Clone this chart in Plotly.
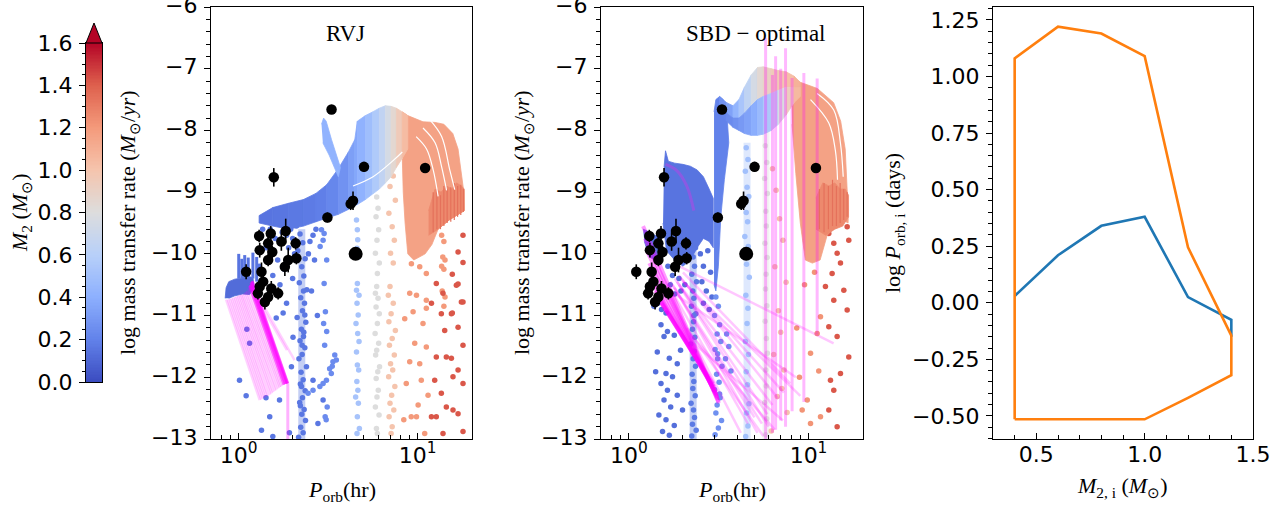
import math
import numpy as np
import plotly.graph_objects as go
from plotly.colors import sample_colorscale

W, H = 1286, 505

# ---------------- colour map (matplotlib coolwarm) ----------------
COOLWARM = [[0.0, 'rgb(59,76,192)'], [0.125, 'rgb(98,130,234)'], [0.25, 'rgb(141,176,254)'],
            [0.375, 'rgb(184,208,249)'], [0.5, 'rgb(221,221,221)'], [0.625, 'rgb(245,196,173)'],
            [0.75, 'rgb(244,154,123)'], [0.875, 'rgb(222,96,77)'], [1.0, 'rgb(180,4,38)']]
CMIN, CMAX = 0.0, 1.6
CBAR_TICKS = [0.0, 0.2, 0.4, 0.6, 0.8, 1.0, 1.2, 1.4, 1.6]

# ---------------- observed systems (both panels) ----------------
OBS_P = [3.30, 1.57, 5.01, 11.0, 3.13, 4.35, 4.22, 1.10, 1.30, 1.51, 1.83, 1.73, 1.46, 1.31,
         2.08, 1.54, 1.89, 2.10, 1.81, 1.46, 1.34, 1.37, 1.31, 1.52, 1.66, 1.46, 1.40, 1.28]
OBS_L = [-7.66, -8.76, -8.59, -8.61, -9.41, -9.14, -9.19, -10.29, -9.71, -9.67, -9.63, -9.80,
         -9.83, -9.94, -9.83, -9.97, -10.10, -10.07, -10.21, -10.10, -10.29, -10.45, -10.53,
         -10.56, -10.64, -10.70, -10.78, -10.64]
OBS_ERR = [0.0, 0.15, 0.08, 0.08, 0.08, 0.15, 0.10, 0.12, 0.10, 0.12, 0.20, 0.15, 0.10, 0.12,
           0.10, 0.10, 0.20, 0.10, 0.15, 0.10, 0.15, 0.10, 0.10, 0.12, 0.10, 0.10, 0.12, 0.10]
BIG_P = [4.5]
BIG_L = [-10.0]

# ---------------- RVJ panel ----------------
RVJ_BLOB_P = [0.84, 0.85, 0.88, 0.95, 1.05, 1.12, 1.20, 1.22, 1.15, 1.05, 0.95, 0.88]
RVJ_BLOB_L = [-10.72, -10.55, -10.45, -10.41, -10.39, -10.37, -10.38, -10.55, -10.66, -10.65, -10.68, -10.72]
RVJ_BLOB_M = 0.12
RVJ_STRIPE_P = [1.0, 1.04, 1.08, 1.13, 1.2, 1.26]
RVJ_STRIPE_TOP = [-10.0, -10.08, -10.02, -10.06, -9.98, -10.05]
RVJ_STRIPE_BOT = [-10.4, -10.4, -10.4, -10.4, -10.4, -10.45]
RVJ_COL_P = [2.25]
RVJ_COL_TOP = [-9.6]
RVJ_COL_BOT = [-13.0]
RVJ_COL_M = 0.16

RVJ_BAND_P = [1.30, 1.55, 1.9, 2.3, 2.7, 3.1, 3.6, 4.1, 4.45, 4.6, 5.1, 5.6, 6.1, 6.6, 7.1, 7.6, 8.2, 8.8]
RVJ_BAND_UP = [-9.38, -9.25, -9.18, -9.12, -9.02, -8.88, -8.62, -8.35, -8.15, -7.85, -7.76, -7.70,
               -7.64, -7.60, -7.61, -7.64, -7.70, -7.76]
RVJ_BAND_LO = [-9.50, -9.55, -9.60, -9.55, -9.48, -9.42, -9.36, -9.28, -9.22, -9.20, -9.12, -9.03,
               -8.95, -8.85, -8.75, -8.60, -8.45, -8.30]
RVJ_BAND_M = [0.15, 0.15, 0.16, 0.17, 0.18, 0.20, 0.24, 0.30, 0.35, 0.38, 0.45, 0.52, 0.60, 0.70,
              0.80, 0.90, 1.00, 1.08]
RVJ_FINGER_P = [2.90, 2.98, 3.08, 3.30, 3.70, 3.60, 3.20, 2.95]
RVJ_FINGER_L = [-7.90, -7.80, -7.85, -8.15, -8.60, -8.75, -8.40, -8.20]
RVJ_FINGER_M = 0.42
RVJ_ORANGE_P = [8.2, 8.8, 10.7, 12.5, 14.0, 15.7, 16.8, 17.6, 18.1, 18.2, 17.0, 15.0, 13.0, 12.0,
                11.0, 9.5, 8.8, 8.5, 8.3, 8.2]
RVJ_ORANGE_L = [-7.70, -7.76, -7.86, -7.87, -7.90, -8.05, -8.30, -8.70, -9.0, -9.3, -9.35, -9.45,
                -9.6, -9.85, -10.0, -10.1, -10.0, -9.5, -9.0, -8.45]
RVJ_ORANGE_M = 1.16
RVJ_RED_P = [11.5, 12.5, 13.5, 14.5, 15.5, 16.5, 17.5, 18.2, 18.2, 17.0, 15.0, 13.0, 11.5]
RVJ_RED_L = [-9.30, -8.95, -9.00, -8.90, -8.95, -8.85, -8.90, -8.95, -9.30, -9.35, -9.45, -9.60, -9.70]
RVJ_RED_M = 1.26
RVJ_STRIA_P = [12.2, 12.8, 13.4, 14.0, 14.6, 15.3, 16.0, 16.7, 17.4, 18.0]
RVJ_STRIA_TOP = [-9.0, -8.95, -9.05, -8.9, -8.95, -8.92, -8.85, -8.9, -8.88, -8.95]
RVJ_STRIA_BOT = [-9.65, -9.6, -9.6, -9.55, -9.5, -9.48, -9.45, -9.4, -9.37, -9.32]
RVJ_GAPS = [([11.7, 13.6, 15.1, 16.1], [-7.83, -8.10, -8.64, -8.96]),
            ([10.7, 12.5, 13.6, 14.5], [-7.96, -8.20, -8.59, -8.97]),
            ([9.8, 11.2, 12.2, 13.0], [-8.10, -8.30, -8.64, -9.07]),
            ([4.35, 5.63, 7.28, 8.2], [-8.90, -8.75, -8.49, -8.35])]

RVJ_DOT_BLUE_P = [2.2, 2.28, 2.14, 2.35, 2.25, 2.31, 2.18, 2.4, 2.22, 2.33, 2.27, 2.12, 2.37, 2.24,
                  2.3, 2.2, 2.34, 2.26, 2.17, 2.39, 2.23, 2.29, 2.21, 2.35, 2.27, 2.19, 2.32, 2.25,
                  2.36, 2.22, 2.29, 2.16, 2.31, 2.24, 2.3, 2.26, 2.21, 2.34,
                  1.01, 1.10, 1.62, 1.77, 1.34, 1.49, 1.55, 1.42, 1.69, 2.01, 1.97, 2.6, 2.77, 2.96,
                  1.11, 1.15, 1.75, 1.85, 1.95, 2.0, 1.9, 2.05, 1.6, 1.5, 1.45, 1.65, 2.1, 1.8, 1.55,
                  2.0, 1.7, 2.6, 2.5, 2.7, 2.45, 2.65, 1.85, 2.55, 2.75, 1.92, 1.36, 1.42, 1.3]
RVJ_DOT_BLUE_L = [-9.68, -9.82, -9.95, -10.08, -10.21, -10.36, -10.47, -10.58, -10.71, -10.8, -10.92,
                  -11.03, -11.11, -11.22, -11.34, -11.41, -11.52, -11.63, -11.7, -11.83, -11.92,
                  -12.04, -12.11, -12.22, -12.33, -12.41, -12.52, -12.6, -12.7, -12.81, -12.9,
                  -12.97, -11.27, -12.15, -10.6, -11.48, -12.46, -10.99,
                  -12.05, -12.3, -11.04, -10.96, -12.86, -12.64, -12.96, -12.33, -12.37, -11.35,
                  -11.83, -12.05, -12.75, -12.37, -11.22, -11.45, -9.65, -9.7, -9.6, -9.75, -9.9,
                  -10.0, -9.75, -9.6, -9.8, -10.1, -9.55, -10.25, -10.35, -10.4, -10.5, -9.7, -9.8,
                  -9.6, -10.0, -10.1, -10.8, -10.6, -11.0, -12.9, -9.6, -9.9, -10.2]
RVJ_DOT_BLUE_M = 0.16
RVJ_DOT_MID_P = [3.44, 3.36, 3.22, 3.29, 3.09, 2.84, 2.6, 2.44, 3.51, 3.33, 2.96, 3.0, 3.05, 2.98,
                 3.1, 3.02, 3.12, 3.04, 3.08, 2.9, 2.96, 3.1, 2.85, 3.0]
RVJ_DOT_MID_L = [-11.64, -11.75, -11.86, -11.94, -12.05, -12.15, -12.21, -12.26, -11.72, -11.82,
                 -12.1, -10.48, -10.94, -11.13, -11.26, -11.48, -12.48, -12.64, -12.69, -9.61,
                 -9.78, -10.1, -9.88, -9.67]
RVJ_DOT_MID_M = 0.24
RVJ_DOT_LB_P = [4.6, 4.55, 4.7, 4.58, 4.65, 4.52, 4.62, 4.7, 4.55, 4.6, 4.68, 4.57, 4.63, 4.5,
                4.66, 4.6, 4.72, 4.58, 4.55, 4.6, 4.62, 4.58, 4.65]
RVJ_DOT_LB_L = [-10.48, -10.59, -10.67, -10.8, -10.99, -11.13, -11.29, -11.42, -11.59, -11.8,
                -11.88, -12.07, -12.21, -12.32, -12.42, -12.64, -12.83, -12.91, -9.45, -9.61,
                -9.77, -9.91, -10.05]
RVJ_DOT_LB_M = 0.52
RVJ_DOT_GR_P = [5.9, 5.8, 6.0, 5.85, 6.1, 5.95, 5.78, 6.05, 5.9, 5.82, 6.12, 5.98, 5.86, 6.02,
                5.92, 5.8, 6.08, 5.88, 5.95, 5.9, 6.0, 5.85, 6.05, 5.92, 5.8, 6.1, 5.95]
RVJ_DOT_GR_L = [-10.53, -10.64, -10.72, -10.86, -10.97, -11.13, -11.29, -11.45, -11.56, -11.64,
                -11.83, -11.91, -12.02, -12.21, -12.32, -12.48, -12.61, -12.83, -12.91, -9.08,
                -9.26, -9.4, -9.61, -9.78, -9.99, -10.15, -10.32]
RVJ_DOT_GR_M = 0.8
RVJ_DOT_LO_P = [7.0, 6.85, 7.3, 7.1, 6.9, 7.5, 7.2, 6.95, 7.4, 7.05, 7.25, 6.88, 7.45, 7.15, 7.0,
                7.35, 6.92, 7.2, 7.1, 7.3, 7.0, 7.5, 6.9, 7.2, 7.4, 7.05, 7.3]
RVJ_DOT_LO_L = [-10.53, -10.67, -10.8, -10.97, -11.1, -11.24, -11.37, -11.48, -11.64, -11.78,
                -11.88, -11.99, -12.15, -12.29, -12.42, -12.53, -12.64, -12.8, -12.91, -8.74,
                -8.91, -9.13, -9.34, -9.56, -9.78, -9.99, -10.15]
RVJ_DOT_LO_M = 1.0
RVJ_DOT_OR_P = [8.46, 9.02, 9.42, 9.62, 9.84, 10.05, 10.7, 11.17, 9.84, 10.47, 11.17, 11.42, 9.02,
                8.63, 9.2, 10.94, 8.36, 11.17, 10.26, 9.22, 10.26, 11.17, 13.6, 14.0, 13.8, 14.2,
                13.6, 14.0, 13.7, 14.2, 14.0]
RVJ_DOT_OR_L = [-11.05, -10.64, -10.94, -11.45, -10.67, -12.45, -11.13, -10.88, -12.64, -12.05,
                -11.51, -12.29, -11.75, -12.1, -12.64, -12.91, -12.69, -10.75, -11.78, -10.16,
                -10.21, -10.32, -9.7, -9.8, -10.05, -10.1, -10.2, -10.25, -10.6, -10.7, -10.85]
RVJ_DOT_OR_M = 1.2
RVJ_DOT_RD_P = [11.93, 12.7, 13.55, 13.84, 14.15, 15.42, 16.44, 17.53, 17.9, 12.7, 14.45, 15.74,
                16.8, 17.9, 12.44, 13.55, 14.45, 12.7, 13.84, 15.74, 16.8, 17.9, 11.93, 15.42,
                17.9, 16.8, 17.9, 15.6, 16.8, 17.9, 15.6, 16.8]
RVJ_DOT_RD_L = [-10.8, -10.48, -10.97, -10.64, -11.24, -10.97, -10.51, -10.78, -11.48, -11.67,
                -11.67, -11.99, -11.88, -12.1, -12.05, -12.26, -12.48, -12.64, -12.91, -12.53,
                -12.59, -12.88, -12.64, -11.69, -9.7, -9.97, -10.14, -10.33, -10.49, -10.78,
                -10.96, -11.19]
RVJ_DOT_RD_M = 1.42

RVJ_PINK_P0 = [0.85, 0.87, 0.89, 0.91, 0.93, 0.95, 0.97, 0.99, 1.01, 1.03, 1.05, 1.07, 1.09, 1.11,
               1.13, 1.15, 1.16, 1.17, 1.18, 1.19, 1.19, 1.17]
RVJ_PINK_L0 = [-10.74, -10.74, -10.73, -10.72, -10.71, -10.70, -10.69, -10.68, -10.67, -10.66,
               -10.66, -10.64, -10.62, -10.60, -10.56, -10.52, -10.50, -10.47, -10.45, -10.44,
               -10.52, -10.55]
RVJ_PINK_P1 = [1.31, 1.34, 1.37, 1.40, 1.43, 1.46, 1.50, 1.53, 1.56, 1.60, 1.63, 1.67, 1.70, 1.73,
               1.76, 1.79, 1.82, 1.85, 1.87, 1.88, 2.05, 1.86]
RVJ_PINK_L1 = [-12.37, -12.36, -12.34, -12.33, -12.31, -12.30, -12.28, -12.26, -12.24, -12.22,
               -12.20, -12.18, -12.16, -12.15, -12.13, -12.12, -12.11, -12.10, -12.10, -12.10,
               -11.72, -11.56]
RVJ_EDGE_P0 = [1.15, 1.16, 1.17, 1.18, 1.19]
RVJ_EDGE_L0 = [-10.52, -10.50, -10.47, -10.45, -10.44]
RVJ_EDGE_P1 = [1.79, 1.82, 1.85, 1.87, 1.88]
RVJ_EDGE_L1 = [-12.12, -12.11, -12.10, -12.10, -12.10]
RVJ_VPINK_P = [1.88]
RVJ_VPINK_TOP = [-12.1]
RVJ_VPINK_BOT = [-13.0]

# ---------------- SBD-optimal panel ----------------
SBD_BLOB_P = [1.2, 1.25, 1.35, 1.45, 1.52, 1.5, 1.4, 1.3, 1.22]
SBD_BLOB_L = [-9.6, -9.62, -9.68, -9.72, -9.8, -10.0, -10.1, -10.05, -9.8]
SBD_BLOB_M = 0.14
SBD_R2_P = [1.57, 1.6, 1.66, 1.8, 2.0, 2.2, 2.4, 2.6, 2.8, 2.95, 2.95, 2.8, 2.6, 2.4, 2.2, 2.0, 1.8, 1.62, 1.55]
SBD_R2_L = [-8.6, -8.33, -8.5, -8.53, -8.55, -8.58, -8.64, -8.75, -8.95, -9.1, -9.9, -9.8, -9.75,
            -9.9, -10.1, -10.2, -10.1, -9.95, -9.5]
SBD_R2_M = 0.15
SBD_R3_P = [2.98, 3.05, 3.2, 3.35, 3.5, 3.6, 3.4, 3.25, 3.15, 3.05, 2.98]
SBD_R3_L = [-7.7, -7.5, -7.45, -7.5, -7.65, -8.2, -8.8, -9.4, -10.2, -10.6, -10.5]
SBD_R3_M = 0.2
SBD_BAND_P = [3.2, 3.5, 3.8, 4.1, 4.4, 4.8, 5.2, 5.6, 6.2, 6.8, 7.5, 8.3, 9.0]
SBD_BAND_UP = [-7.45, -7.55, -7.60, -7.50, -7.30, -7.10, -6.98, -6.97, -7.00, -7.03, -7.05, -7.12, -7.22]
SBD_BAND_MID = [-7.60, -7.72, -7.80, -7.80, -7.72, -7.60, -7.50, -7.45, -7.40, -7.35, -7.30, -7.30, -7.30]
SBD_BAND_LO = [-7.70, -7.85, -7.95, -8.00, -8.05, -8.08, -8.08, -8.06, -8.00, -7.90, -7.75, -7.55, -7.45]
SBD_BAND_M_UP = [0.25, 0.30, 0.38, 0.48, 0.58, 0.70, 0.80, 0.88, 0.93, 0.97, 1.00, 1.05, 1.12]
SBD_BAND_M_LO = [0.20, 0.22, 0.25, 0.28, 0.32, 0.36, 0.42, 0.50, 0.60, 0.72, 0.85, 1.00, 1.10]
SBD_ORANGE_P = [8.0, 9.0, 11.2, 13.8, 15.1, 16.0, 16.4, 16.7, 16.6, 15.5, 14.0, 12.7, 11.6, 10.5,
                9.6, 9.0, 8.5, 8.1]
SBD_ORANGE_L = [-7.15, -7.22, -7.32, -7.55, -7.85, -8.3, -8.95, -9.3, -9.5, -9.45, -9.55, -9.7,
                -10.1, -10.15, -10.1, -9.5, -8.7, -7.9]
SBD_ORANGE_M = 1.16
SBD_RED_P = [11.0, 12.0, 13.0, 14.0, 15.0, 16.0, 16.7, 16.7, 15.5, 14.0, 12.5, 11.0]
SBD_RED_L = [-9.1, -8.85, -8.9, -8.85, -8.95, -8.95, -9.05, -9.4, -9.55, -9.6, -9.7, -9.6]
SBD_RED_M = 1.26
SBD_STRIA_P = [11.5, 12.2, 12.9, 13.6, 14.3, 15.0, 15.7, 16.4]
SBD_STRIA_TOP = [-8.95, -8.85, -8.9, -8.8, -8.9, -8.85, -8.95, -9.0]
SBD_STRIA_BOT = [-9.6, -9.65, -9.6, -9.55, -9.55, -9.5, -9.45, -9.4]
SBD_GAPS = [([11.17, 13.82, 15.06, 15.6], [-7.40, -7.67, -8.21, -8.75]),
            ([10.26, 12.97, 14.1, 14.5], [-7.50, -7.88, -8.32, -8.80])]
SBD_COL_P = [2.28, 4.55, 5.8]
SBD_COL_TOP = [-9.4, -8.2, -7.95]
SBD_COL_BOT = [-13.0, -13.0, -13.0]
SBD_COL_M = [0.16, 0.5, 0.8]

SBD_DOT_DB_P = [1.61, 1.51, 1.64, 1.57, 1.79, 1.44, 1.68, 1.86, 1.41, 1.61, 1.75, 1.51, 1.64, 1.86,
                1.57, 1.71, 1.47, 1.61, 1.79, 1.54, 1.68, 1.94, 1.99, 1.38, 1.45, 1.52,
                1.65, 1.75, 1.9, 2.05, 2.5, 2.6, 2.75, 2.85, 1.7, 1.95, 2.55, 2.7, 2.9, 1.8, 2.6, 2.8]
SBD_DOT_DB_L = [-10.96, -11.15, -11.26, -11.34, -11.32, -11.59, -11.69, -11.78, -11.91, -11.94,
                -11.99, -12.10, -12.21, -12.29, -12.37, -12.48, -12.61, -12.69, -12.78, -12.88,
                -12.94, -11.56, -12.53, -10.85, -10.8, -10.9,
                -10.2, -10.35, -10.4, -10.5, -10.0, -10.2, -9.95, -10.3, -10.5, -10.6, -10.45,
                -10.6, -10.7, -10.65, -10.8, -10.9]
SBD_DOT_DB_M = 0.13
SBD_DOT_COL_P = [2.25, 2.3, 2.22, 2.35, 2.28, 2.32, 2.24, 2.38, 2.27, 2.3, 2.23, 2.36, 2.29, 2.26,
                 2.33, 2.21, 2.31, 2.28, 2.35, 2.25, 2.3, 2.27, 2.34, 2.22, 2.29, 2.32, 2.26, 2.37,
                 2.24, 2.3]
SBD_DOT_COL_L = [-9.45, -9.6, -9.78, -9.9, -10.05, -10.2, -10.33, -10.45, -10.6, -10.72, -10.85,
                 -10.97, -11.1, -11.22, -11.35, -11.46, -11.58, -11.7, -11.82, -11.95, -12.07,
                 -12.18, -12.3, -12.42, -12.53, -12.65, -12.76, -12.86, -12.95, -11.0]
SBD_DOT_COL_M = 0.17
SBD_DOT_MID_P = [3.05, 3.15, 3.0, 3.2, 3.1, 3.25, 3.02, 3.12, 3.3, 3.08, 3.18, 3.0, 3.22, 3.1, 3.05,
                 3.28, 3.15, 3.02, 3.12, 3.2, 3.5, 3.6, 3.45, 3.7]
SBD_DOT_MID_L = [-10.7, -10.85, -11.0, -11.15, -11.3, -11.42, -11.55, -11.7, -11.82, -11.95,
                 -12.08, -12.2, -12.33, -12.45, -12.58, -12.7, -12.82, -12.93, -11.62, -12.27,
                 -11.3, -11.5, -11.7, -11.9]
SBD_DOT_MID_M = 0.26
SBD_DOT_LB_P = [4.5, 4.6, 4.45, 4.55, 4.65, 4.5, 4.58, 4.42, 4.62, 4.52, 4.68, 4.48, 4.6, 4.55,
                4.45, 4.63, 4.5, 4.57, 4.66, 4.52, 4.6, 4.47]
SBD_DOT_LB_L = [-8.28, -8.47, -8.66, -8.92, -9.07, -9.33, -9.48, -9.72, -9.88, -10.17, -10.38,
                -10.67, -10.88, -11.13, -11.42, -11.63, -11.91, -12.12, -12.43, -12.58, -12.79, -12.96]
SBD_DOT_LB_M = 0.5
SBD_DOT_GR_P = [5.8, 5.75, 5.85, 5.7, 5.9, 5.78, 5.82, 5.72, 5.88, 5.8, 5.76, 5.86, 5.74, 5.83,
                5.9, 5.78, 5.81, 5.7, 5.85, 5.77]
SBD_DOT_GR_L = [-8.0, -8.25, -8.52, -8.78, -9.02, -9.31, -9.55, -9.83, -10.06, -10.33, -10.57,
                -10.84, -11.09, -11.37, -11.61, -11.88, -12.14, -12.41, -12.67, -12.93]
SBD_DOT_GR_M = 0.8
SBD_DOT_LO_P = [6.3, 6.6, 6.9, 7.2, 6.5, 7.5, 6.8, 7.0, 6.4, 7.3, 6.7, 7.6, 6.2, 7.1]
SBD_DOT_LO_L = [-8.62, -8.97, -9.43, -9.78, -10.21, -10.46, -10.92, -11.27, -11.63, -11.88,
                -12.31, -12.57, -12.87, -12.18]
SBD_DOT_LO_M = 1.0
SBD_DOT_OR_P = [11.66, 10.26, 9.22, 10.26, 11.66, 9.84, 11.17, 8.6, 9.5, 10.8, 8.9, 11.4]
SBD_DOT_OR_L = [-11.02, -11.61, -12.53, -12.75, -12.64, -12.37, -11.29, -11.2, -10.5, -10.3,
                -12.0, -11.9]
SBD_DOT_OR_M = 1.22
SBD_DOT_RD_P = [12.97, 13.82, 14.43, 15.06, 16.41, 16.75, 13.53, 15.72, 13.82, 16.41, 12.97,
                14.43, 16.75, 13.25, 12.97, 14.43, 13.82, 15.06, 12.42]
SBD_DOT_RD_L = [-9.67, -9.83, -9.99, -10.15, -9.56, -9.78, -10.32, -10.59, -10.75, -10.91,
                -11.18, -11.34, -11.67, -12.05, -12.53, -12.8, -12.21, -11.94, -10.53]
SBD_DOT_RD_M = 1.42

SBD_PINK_P0 = [1.2, 1.23, 1.26, 1.3, 1.33, 1.37, 1.4, 1.44, 1.48, 1.52]
SBD_PINK_L0 = [-9.55, -9.75, -9.95, -10.15, -10.35, -10.5, -10.6, -10.68, -10.75, -10.8]
SBD_PINK_P1 = [3.17, 3.16, 3.14, 3.12, 3.1, 3.08, 3.05, 3.02, 2.98, 2.95]
SBD_PINK_L1 = [-12.42, -12.4, -12.36, -12.33, -12.3, -12.27, -12.23, -12.19, -12.15, -12.1]
SBD_FAN_P0 = [1.6, 1.65, 1.7, 1.75, 1.8, 1.85, 1.9, 1.95, 2.0, 1.7, 1.8, 1.9, 2.0, 1.94, 2.1, 2.2, 2.3]
SBD_FAN_L0 = [-10.55, -10.5, -10.45, -10.5, -10.4, -10.45, -10.35, -10.4, -10.3, -10.6, -10.55,
              -10.5, -10.45, -10.21, -11.2, -11.3, -11.45]
SBD_FAN_P1 = [4.2, 4.6, 5.0, 5.5, 5.9, 6.3, 6.8, 7.3, 7.9, 8.5, 5.2, 6.0, 9.0, 13.8, 5.6, 6.5, 7.2]
SBD_FAN_L1 = [-12.9, -12.75, -12.65, -12.75, -12.6, -12.45, -12.35, -12.25, -12.1, -12.0, -12.9,
              -12.8, -12.3, -11.45, -12.95, -12.85, -12.7]
SBD_VPINK_P = [5.77, 6.3, 6.56, 7.0, 7.45, 8.1, 9.42, 11.17]
SBD_VPINK_TOP = [-6.5, -7.1, -6.8, -7.0, -6.67, -7.15, -7.07, -7.16]
SBD_VPINK_BOT = [-13.0, -12.9, -12.85, -12.7, -12.8, -12.55, -12.4, -11.3]
SBD_CURVE_P = [1.6, 1.85, 2.1, 2.3]
SBD_CURVE_L = [-8.55, -8.65, -8.9, -9.3]

# ---------------- right panel ----------------
BLUE_M2 = [0.4, 0.6, 0.8, 1.0, 1.2, 1.4, 1.4]
BLUE_LOGP = [0.03, 0.21, 0.34, 0.38, 0.025, -0.075, -0.15]
ORANGE_M2 = [0.4, 0.4, 0.6, 0.8, 1.0, 1.2, 1.4, 1.4, 1.2, 1.0, 0.4]
ORANGE_LOGP = [-0.515, 1.08, 1.22, 1.19, 1.09, 0.245, -0.145, -0.32, -0.42, -0.515, -0.515]


def mcolor(m):
    s = min(max((m - CMIN) / (CMAX - CMIN), 0.0), 1.0)
    return sample_colorscale(COOLWARM, [s])[0]


fig = go.Figure()


def poly(xa, ya, P, L, m):
    c = mcolor(m)
    fig.add_trace(go.Scatter(x=P, y=L, xaxis=xa, yaxis=ya, mode='lines', fill='toself',
                             fillcolor=c, line=dict(color=c, width=0.8), hoverinfo='skip'))


def band(xa, ya, P, UP, LO, M):
    for i in range(len(P) - 1):
        poly(xa, ya, [P[i], P[i + 1], P[i + 1], P[i], P[i]],
             [UP[i], UP[i + 1], LO[i + 1], LO[i], UP[i]], 0.5 * (M[i] + M[i + 1]))


def vlines(xa, ya, P, T, B, color, width, opacity=1.0):
    for p, t, b in zip(P, T, B):
        fig.add_trace(go.Scatter(x=[p, p], y=[t, b], xaxis=xa, yaxis=ya, mode='lines',
                                 line=dict(color=color, width=width), opacity=opacity,
                                 hoverinfo='skip'))


def dots(xa, ya, groups):
    P, L, M = [], [], []
    for gp, gl, gm in groups:
        P += gp
        L += gl
        M += [gm] * len(gp)
    fig.add_trace(go.Scatter(x=P, y=L, xaxis=xa, yaxis=ya, mode='markers',
                             marker=dict(size=5.5, color=M, colorscale=COOLWARM, cmin=CMIN,
                                         cmax=CMAX, line=dict(width=0)),
                             hoverinfo='skip'))


def pink(xa, ya, P0, L0, P1, L1, alpha, width):
    for a, b, c, d in zip(P0, L0, P1, L1):
        fig.add_trace(go.Scatter(x=[a, c], y=[b, d], xaxis=xa, yaxis=ya, mode='lines',
                                 line=dict(color='rgba(255,0,255,%.2f)' % alpha, width=width),
                                 hoverinfo='skip'))


def gaps(xa, ya, G):
    for gp, gl in G:
        fig.add_trace(go.Scatter(x=gp, y=gl, xaxis=xa, yaxis=ya, mode='lines',
                                 line=dict(color='white', width=1.2, shape='spline'),
                                 hoverinfo='skip'))


def obs(xa, ya):
    fig.add_trace(go.Scatter(x=OBS_P, y=OBS_L, xaxis=xa, yaxis=ya, mode='markers',
                             marker=dict(size=10.5, color='black'),
                             error_y=dict(type='data', array=OBS_ERR, color='black',
                                          thickness=1.6, width=0), hoverinfo='skip'))
    fig.add_trace(go.Scatter(x=BIG_P, y=BIG_L, xaxis=xa, yaxis=ya, mode='markers',
                             marker=dict(size=14, color='black'), hoverinfo='skip'))


# ---- RVJ panel (x, y)
vlines('x', 'y', RVJ_COL_P, RVJ_COL_TOP, RVJ_COL_BOT, mcolor(RVJ_COL_M), 7, 0.35)
dots('x', 'y', [(RVJ_DOT_BLUE_P, RVJ_DOT_BLUE_L, RVJ_DOT_BLUE_M),
                (RVJ_DOT_MID_P, RVJ_DOT_MID_L, RVJ_DOT_MID_M),
                (RVJ_DOT_LB_P, RVJ_DOT_LB_L, RVJ_DOT_LB_M),
                (RVJ_DOT_GR_P, RVJ_DOT_GR_L, RVJ_DOT_GR_M),
                (RVJ_DOT_LO_P, RVJ_DOT_LO_L, RVJ_DOT_LO_M),
                (RVJ_DOT_OR_P, RVJ_DOT_OR_L, RVJ_DOT_OR_M),
                (RVJ_DOT_RD_P, RVJ_DOT_RD_L, RVJ_DOT_RD_M)])
poly('x', 'y', RVJ_BLOB_P, RVJ_BLOB_L, RVJ_BLOB_M)
vlines('x', 'y', RVJ_STRIPE_P, RVJ_STRIPE_TOP, RVJ_STRIPE_BOT, mcolor(0.15), 3)
poly('x', 'y', RVJ_ORANGE_P, RVJ_ORANGE_L, RVJ_ORANGE_M)
poly('x', 'y', RVJ_RED_P, RVJ_RED_L, RVJ_RED_M)
vlines('x', 'y', RVJ_STRIA_P, RVJ_STRIA_TOP, RVJ_STRIA_BOT, mcolor(1.34), 1.2)
band('x', 'y', RVJ_BAND_P, RVJ_BAND_UP, RVJ_BAND_LO, RVJ_BAND_M)
poly('x', 'y', RVJ_FINGER_P, RVJ_FINGER_L, RVJ_FINGER_M)
gaps('x', 'y', RVJ_GAPS)
pink('x', 'y', RVJ_PINK_P0, RVJ_PINK_L0, RVJ_PINK_P1, RVJ_PINK_L1, 0.18, 2.5)
pink('x', 'y', RVJ_EDGE_P0, RVJ_EDGE_L0, RVJ_EDGE_P1, RVJ_EDGE_L1, 0.45, 3)
vlines('x', 'y', RVJ_VPINK_P, RVJ_VPINK_TOP, RVJ_VPINK_BOT, 'rgba(255,0,255,0.3)', 3)
obs('x', 'y')

# ---- SBD panel (x2, y2)
for p, t, b, m in zip(SBD_COL_P, SBD_COL_TOP, SBD_COL_BOT, SBD_COL_M):
    vlines('x2', 'y2', [p], [t], [b], mcolor(m), 7, 0.35)
dots('x2', 'y2', [(SBD_DOT_DB_P, SBD_DOT_DB_L, SBD_DOT_DB_M),
                  (SBD_DOT_COL_P, SBD_DOT_COL_L, SBD_DOT_COL_M),
                  (SBD_DOT_MID_P, SBD_DOT_MID_L, SBD_DOT_MID_M),
                  (SBD_DOT_LB_P, SBD_DOT_LB_L, SBD_DOT_LB_M),
                  (SBD_DOT_GR_P, SBD_DOT_GR_L, SBD_DOT_GR_M),
                  (SBD_DOT_LO_P, SBD_DOT_LO_L, SBD_DOT_LO_M),
                  (SBD_DOT_OR_P, SBD_DOT_OR_L, SBD_DOT_OR_M),
                  (SBD_DOT_RD_P, SBD_DOT_RD_L, SBD_DOT_RD_M)])
poly('x2', 'y2', SBD_BLOB_P, SBD_BLOB_L, SBD_BLOB_M)
poly('x2', 'y2', SBD_R2_P, SBD_R2_L, SBD_R2_M)
poly('x2', 'y2', SBD_R3_P, SBD_R3_L, SBD_R3_M)
poly('x2', 'y2', SBD_ORANGE_P, SBD_ORANGE_L, SBD_ORANGE_M)
poly('x2', 'y2', SBD_RED_P, SBD_RED_L, SBD_RED_M)
vlines('x2', 'y2', SBD_STRIA_P, SBD_STRIA_TOP, SBD_STRIA_BOT, mcolor(1.34), 1.2)
band('x2', 'y2', SBD_BAND_P, SBD_BAND_UP, SBD_BAND_MID, SBD_BAND_M_UP)
band('x2', 'y2', SBD_BAND_P, SBD_BAND_MID, SBD_BAND_LO, SBD_BAND_M_LO)
gaps('x2', 'y2', SBD_GAPS)
pink('x2', 'y2', SBD_FAN_P0, SBD_FAN_L0, SBD_FAN_P1, SBD_FAN_L1, 0.22, 2.5)
pink('x2', 'y2', SBD_PINK_P0, SBD_PINK_L0, SBD_PINK_P1, SBD_PINK_L1, 0.4, 4)
vlines('x2', 'y2', SBD_VPINK_P, SBD_VPINK_TOP, SBD_VPINK_BOT, 'rgba(255,0,255,0.28)', 3)
fig.add_trace(go.Scatter(x=SBD_CURVE_P, y=SBD_CURVE_L, xaxis='x2', yaxis='y2', mode='lines',
                         line=dict(color='rgba(200,60,230,0.45)', width=3, shape='spline'),
                         hoverinfo='skip'))
obs('x2', 'y2')

# ---- right panel (x3, y3)
fig.add_trace(go.Scatter(x=BLUE_M2, y=BLUE_LOGP, xaxis='x3', yaxis='y3', mode='lines',
                         line=dict(color='#1f77b4', width=2.6), hoverinfo='skip'))
fig.add_trace(go.Scatter(x=ORANGE_M2, y=ORANGE_LOGP, xaxis='x3', yaxis='y3', mode='lines',
                         line=dict(color='#ff7f0e', width=2.6), hoverinfo='skip'))

# ---- colour bar (x4, y4)
levels = np.linspace(CMIN, CMAX, 241)
fig.add_trace(go.Heatmap(z=[[v] for v in levels], x=[0], y=levels, xaxis='x4', yaxis='y4',
                         colorscale=COOLWARM, zmin=CMIN, zmax=CMAX, showscale=False,
                         hoverinfo='skip'))

# ---------------- layout ----------------
TICKFONT = dict(family='DejaVu Sans', size=22, color='black')
SERIF = 'Liberation Serif'


def px(v):
    return v / W


def py(v):
    return 1 - v / H


def base_axis(**kw):
    d = dict(showline=True, linecolor='black', linewidth=1.3, mirror=True, showgrid=False,
             zeroline=False, ticks='outside', ticklen=6, tickwidth=1.2, tickcolor='black',
             tickfont=TICKFONT, automargin=False, ticklabeloverflow='allow')
    d.update(kw)
    return d


YDOM = [py(439), py(7)]
logx_minor = dict(tickvals=[0.7, 0.8, 0.9, 2, 3, 4, 5, 6, 7, 8, 9, 20], ticks='inside',
                  ticklen=3.5, tickwidth=1, tickcolor='black')
for name, dom, anchor in [('xaxis', [px(211), px(472)], 'y'), ('xaxis2', [px(601), px(863)], 'y2')]:
    fig.layout[name] = base_axis(domain=dom, anchor=anchor, type='log',
                                 range=[math.log10(0.70), math.log10(20.1)],
                                 tickvals=[1, 10], ticktext=['10<sup>0</sup>', '10<sup>1</sup>'],
                                 ticks='inside', ticklen=6, ticklabelstandoff=-4,
                                 minor=logx_minor)
for name, anchor in [('yaxis', 'x'), ('yaxis2', 'x2')]:
    fig.layout[name] = base_axis(domain=YDOM, anchor=anchor, range=[-13, -6],
                                 tickvals=[-13, -12, -11, -10, -9, -8, -7, -6],
                                 ticklabelstandoff=2, ticklabelshift=-2,
                                 minor=dict(dtick=0.2, tick0=-13, ticks='outside', ticklen=3.5,
                                            tickwidth=1, tickcolor='black'))
fig.layout['xaxis3'] = base_axis(domain=[px(993), px(1253)], anchor='y3', range=[0.3, 1.5],
                                 tickvals=[0.5, 1.0, 1.5], ticktext=['0.5', '1.0', '1.5'],
                                 ticks='inside', ticklabelstandoff=-5,
                                 minor=dict(dtick=0.1, tick0=0.3, ticks='inside', ticklen=3.5,
                                            tickwidth=1, tickcolor='black'))
fig.layout['yaxis3'] = base_axis(domain=YDOM, anchor='x3', range=[-0.602, 1.307],
                                 tickvals=[-0.5, -0.25, 0, 0.25, 0.5, 0.75, 1.0, 1.25],
                                 tickformat='.2f', ticklabelstandoff=2,
                                 minor=dict(dtick=0.05, tick0=-0.6, ticks='outside', ticklen=3.5,
                                            tickwidth=1, tickcolor='black'))
fig.layout['xaxis4'] = dict(domain=[px(86), px(102)], anchor='y4', range=[-0.5, 0.5],
                            showticklabels=False, ticks='', showgrid=False, zeroline=False,
                            showline=True, linecolor='black', linewidth=1, mirror=True,
                            automargin=False)
fig.layout['yaxis4'] = base_axis(domain=[py(382), py(43)], anchor='x4', range=[CMIN, CMAX],
                                 tickvals=CBAR_TICKS, ticktext=['%.1f' % v for v in CBAR_TICKS],
                                 linewidth=1, ticklabelstandoff=2,
                                 minor=dict(dtick=0.05, tick0=0, ticks='outside', ticklen=3.5,
                                            tickwidth=1, tickcolor='black'))

ann = []


def text(x, y, s, size=22, angle=0):
    ann.append(dict(x=px(x), y=py(y), xref='paper', yref='paper', text=s, showarrow=False,
                    textangle=angle, xanchor='center', yanchor='middle',
                    font=dict(family=SERIF, size=size, color='black')))


text(21, 213, '<i>M</i><sub>2</sub> (<i>M</i><sub>⊙</sub>)', angle=-90)
text(129, 223, 'log mass transfer rate (<i>M</i><sub>⊙</sub>/<i>yr</i>)', angle=-90)
text(523, 223, 'log mass transfer rate (<i>M</i><sub>⊙</sub>/<i>yr</i>)', angle=-90)
text(894, 223, 'log <i>P</i><sub>orb, i</sub> (days)', angle=-90)
text(342, 491, '<i>P</i><sub>orb</sub>(hr)')
text(732, 491, '<i>P</i><sub>orb</sub>(hr)')
text(1122, 487, '<i>M</i><sub>2, i</sub> (<i>M</i><sub>⊙</sub>)')
text(345, 33, 'RVJ', size=23)
text(755, 33, 'SBD − optimal', size=23)

shapes = [dict(type='path', xref='paper', yref='paper',
               path='M %f,%f L %f,%f L %f,%f Z' % (px(86), py(43), px(102), py(43), px(94), py(23)),
               fillcolor=mcolor(1.7), line=dict(color='black', width=1))]

fig.update_layout(width=W, height=H, margin=dict(l=0, r=0, t=0, b=0, autoexpand=False),
                  paper_bgcolor='white', plot_bgcolor='white', showlegend=False,
                  annotations=ann, shapes=shapes)

fig.write_html('out.html')
